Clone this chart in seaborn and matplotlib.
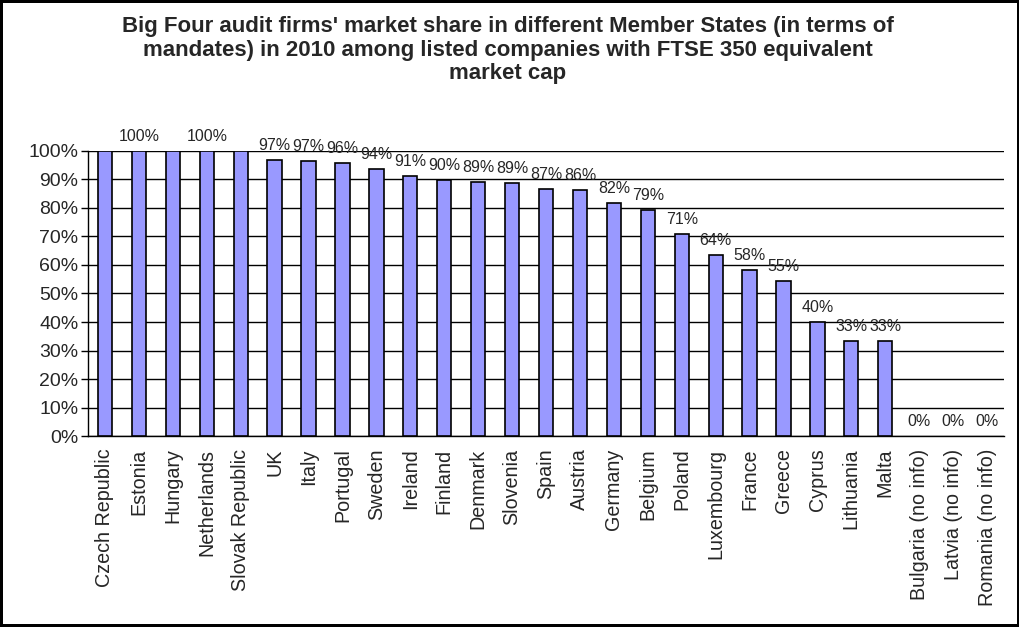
import numpy as np
import pandas as pd
import matplotlib
matplotlib.use("Agg")
import matplotlib.pyplot as plt
import seaborn as sns
from matplotlib.ticker import PercentFormatter, FixedLocator

countries = ["Czech Republic", "Estonia", "Hungary", "Netherlands", "Slovak Republic",
             "UK", "Italy", "Portugal", "Sweden", "Ireland", "Finland", "Denmark",
             "Slovenia", "Spain", "Austria", "Germany", "Belgium", "Poland",
             "Luxembourg", "France", "Greece", "Cyprus", "Lithuania", "Malta",
             "Bulgaria (no info)", "Latvia (no info)", "Romania (no info)"]
share = [1.0, 1.0, 1.0, 1.0, 1.0,
         0.967, 0.966, 0.957, 0.936, 0.913, 0.897, 0.892,
         0.889, 0.868, 0.864, 0.816, 0.794, 0.708,
         0.636, 0.583, 0.545, 0.40, 0.333, 0.333,
         0.0, 0.0, 0.0]
# Excel hid the labels that overlapped their neighbours
hidden_labels = ["Czech Republic", "Hungary", "Slovak Republic"]

title = ("Big Four audit firms' market share in different Member States (in terms of\n"
         "mandates) in 2010 among listed companies with FTSE 350 equivalent\n"
         "market cap")

df = pd.DataFrame({"country": countries, "share": share})

sns.set_style("white")
plt.rcParams["font.family"] = ["Liberation Sans", "DejaVu Sans"]

fig = plt.figure(figsize=(10.2, 6.27), dpi=100)
fig.patch.set_edgecolor("black")
fig.patch.set_linewidth(4)
ax = fig.add_axes([0.0863, 0.3046, 0.898, 0.4546])

sns.barplot(data=df, x="country", y="share", color="#9999FF", saturation=1,
            edgecolor="black", linewidth=1.2, width=0.42, ax=ax, zorder=3)

# zero-height bars should not leave a mark on the axis
for patch, v in zip(ax.containers[0], share):
    if v == 0:
        patch.set_linewidth(0)

labels = [f"{v:.0%}" if c not in hidden_labels else "" for c, v in zip(countries, share)]
ax.bar_label(ax.containers[0], labels=labels, padding=5, fontsize=11.5)

ax.set_ylim(0, 1.0)
ax.set_xlim(-0.5, len(countries) - 0.5)
ax.yaxis.set_major_locator(FixedLocator(np.arange(0, 1.01, 0.1)))
ax.yaxis.set_major_formatter(PercentFormatter(1.0, decimals=0))
ax.yaxis.grid(True, color="black", linewidth=1, zorder=0)
ax.set_axisbelow(True)

ax.set_xlabel("")
ax.set_ylabel("")
ax.tick_params(axis="x", which="major", length=0, labelsize=14.2, rotation=90, pad=9)
ax.xaxis.set_minor_locator(FixedLocator(np.arange(-0.5, len(countries), 1.0)))
ax.tick_params(axis="x", which="minor", length=4.5, width=1, color="black", direction="out")
ax.tick_params(axis="y", length=5, width=1, color="black", direction="out",
               labelsize=14, pad=2, left=True)

for side in ["top", "right"]:
    ax.spines[side].set_visible(False)
for side in ["left", "bottom"]:
    ax.spines[side].set_color("black")
    ax.spines[side].set_linewidth(1)

fig.text(0.498, 0.920, title, ha="center", va="center", fontsize=16,
         fontweight="bold", linespacing=1.15)

fig.savefig("out.png", dpi=100)
